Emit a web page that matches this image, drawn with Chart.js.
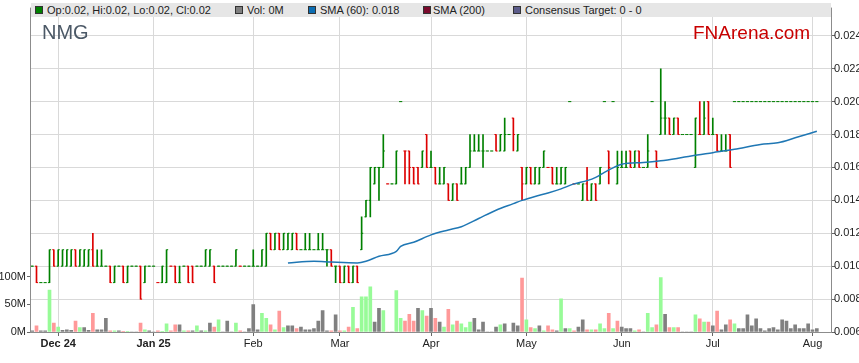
<!DOCTYPE html>
<html>
<head>
<meta charset="utf-8">
<script src="https://cdn.jsdelivr.net/npm/chart.js@4.4.1/dist/chart.umd.min.js"></script>
<style>
  body { margin: 0; background: #fff; }
  #wrap { position: relative; width: 859px; height: 363px; font-family: "Liberation Sans", Arial, sans-serif; }
  #band { position: absolute; left: 31px; top: 3px; width: 800px; height: 14px; background: #e6e6e6; font-size: 11px; color: #222; }
  #band .sq { position: absolute; top: 3px; width: 6px; height: 6px; border: 1px solid #333; }
  #band .tx { position: absolute; top: 0; line-height: 14px; white-space: nowrap; }
  .mark { position: absolute; white-space: nowrap; line-height: 20px; }
</style>
</head>
<body>
<div id="wrap">
  <canvas id="chart"></canvas>
  <div id="band">
    <span class="sq" style="left:4px;background:#008000"></span><span class="tx" style="left:16px">Op:0.02, Hi:0.02, Lo:0.02, Cl:0.02</span>
    <span class="sq" style="left:204px;background:#808080"></span><span class="tx" style="left:216px">Vol: 0M</span>
    <span class="sq" style="left:277px;background:#0b6db3"></span><span class="tx" style="left:289px">SMA (60): 0.018</span>
    <span class="sq" style="left:392px;background:#7a0a2c"></span><span class="tx" style="left:402px">SMA (200)</span>
    <span class="sq" style="left:482px;background:#5c5c8a"></span><span class="tx" style="left:494px">Consensus Target: 0 - 0</span>
  </div>
  <div class="mark" style="left:42px;top:22px;font-size:20px;color:#4b5866">NMG</div>
  <div class="mark" style="left:693px;top:23px;font-size:19px;color:#c80000">FNArena.com</div>
</div>
<script>
// prices in thousandths of a dollar, one entry per weekday from 22 Nov 2024
const open = [
  10,10,9,9,9,11,10,10,10,10, 11,10,10,10,11,10,10,10,10,9,
  10,10,9,10,10,10,9,10,10,9, 9,9,10,10,9,10,10,10,10,10,
  10,10,10,10,10,10,10,10,10,10, 10,10,10,10,10,12,11,12,11,11,
  11,12,11,11,11,11,11,11,11,11, 10,10,9,10,9,10,11,13,14,15,
  16,16,15,15,15,20,17,17,16,16, 16,18,16,16,15,15,15,14,15,15,
  15,16,17,17,17,17,17,18,17,17, 18,19,17,16,15,16,15,15,16,16,
  16,15,15,15,20,15,15,14,15,14, 15,15,20,17,20,15,16,16,17,16,
  17,16,16,20,17,18,19,19,18,19, 18,18,18,16,18,18,20,18,18,17,
  17,18,20,20,20,20,20,20,20,20, 20,20,20,20,20,20,20,20,20,20,
  20,20
];
const high = [
  10,10,9,9,11,11,11,11,11,11, 11,11,11,11,12,11,11,10,10,10,
  10,10,10,10,10,10,10,10,10,9, 10,11,10,10,10,10,10,10,10,10,
  11,11,10,10,10,10,10,11,10,10, 10,11,10,11,12,12,12,12,12,12,
  12,12,11,12,12,11,12,12,11,11, 10,10,10,10,10,10,13,14,16,16,
  16,18,15,15,17,20,17,17,16,16, 17,18,17,16,16,16,15,15,15,16,
  16,18,18,18,18,17,17,18,18,19, 18,19,18,16,16,16,16,16,17,16,
  16,16,16,16,20,15,15,15,16,15, 15,16,20,17,20,17,17,17,17,17,
  17,16,18,20,17,22,20,19,19,19, 18,18,18,19,20,20,20,19,18,18,
  18,18,20,20,20,20,20,20,20,20, 20,20,20,20,20,20,20,20,20,20,
  20,20
];
const low = [
  10,9,9,9,9,10,10,10,10,10, 10,10,10,10,10,10,10,10,9,9,
  10,9,9,10,10,8,9,10,10,9, 9,9,10,9,9,10,9,9,10,10,
  10,10,9,10,10,10,10,10,10,10, 10,10,10,10,10,11,11,11,11,11,
  11,11,11,11,11,11,11,11,10,10, 9,9,9,9,9,9,11,13,13,15,
  14,16,15,15,15,20,15,15,15,15, 16,16,16,15,15,15,14,14,14,15,
  15,16,17,17,16,17,17,17,17,17, 18,17,17,14,15,15,15,15,16,16,
  15,15,15,15,20,15,15,14,14,14, 14,15,20,15,20,15,16,16,16,16,
  16,16,16,20,16,18,18,18,18,18, 18,18,18,16,18,18,18,18,17,17,
  17,16,20,20,20,20,20,20,20,20, 20,20,20,20,20,20,20,20,20,20,
  20,20
];
const close = [
  10,9,9,9,11,10,11,11,11,11, 10,11,11,11,10,10,10,10,9,10,
  10,9,10,10,10,8,10,10,10,9, 10,11,10,9,9,10,9,9,10,10,
  11,11,9,10,10,10,10,11,10,10, 10,10,10,11,12,11,12,11,12,12,
  12,11,11,11,11,11,11,11,11,10, 10,9,10,9,10,9,12,14,16,16,
  16,17,15,15,17,20,17,16,15,15, 17,16,16,15,15,16,14,15,14,15,
  16,17,17,17,17,17,17,17,18,18, 18,18,18,15,16,15,16,16,17,16,
  15,15,16,16,20,15,15,15,14,15, 14,16,20,16,20,16,16,16,16,17,
  16,16,17,20,16,19,19,18,19,18, 18,18,18,19,18,19,18,18,17,17,
  17,16,20,20,20,20,20,20,20,20, 20,20,20,20,20,20,20,20,20,20,
  20,20
];
// volume in millions of shares
const volume = [
  2,11,2,2,76,16,9,3,4,3, 20,8,8,3,34,4,4,25,2,2,
  2,1,1,0,0,16,4,2,0,2, 1,15,2,13,13,2,2,2,11,2,
  2,16,9,22,0,20,0,16,2,0, 6,50,4,34,25,13,4,38,8,11,
  11,6,9,4,4,6,20,39,2,2, 31,2,2,9,45,6,64,64,82,18,
  43,39,0,0,75,25,20,32,20,43, 39,29,43,25,18,9,41,13,20,15,
  8,18,25,4,18,0,0,9,13,15, 0,16,11,98,22,8,6,11,2,11,
  4,2,60,6,6,2,9,22,4,4, 4,15,6,34,6,20,9,6,6,2,
  4,0,34,8,13,99,32,8,8,8, 0,0,0,31,24,18,18,11,38,4,
  13,22,15,6,6,31,11,24,6,2, 6,8,4,22,20,6,13,6,6,15,
  4,6
];
// SMA (60) at these weekday indexes
const smaIndex = [59, 65, 69, 75, 77, 80, 84, 85, 88, 92, 96, 99, 103, 107, 111, 113, 116, 119, 122, 125,
  128, 130, 132, 136, 141, 145, 149, 152, 157, 162, 168, 172, 176, 181];
const smaValue = [10.2, 10.3, 10.25, 10.2, 10.3, 10.6, 10.9, 11.2, 11.45, 11.9, 12.2, 12.4, 12.9, 13.4, 13.8, 14.0, 14.24, 14.45, 14.7, 15.0,
  15.2, 15.4, 15.7, 16.2, 16.3, 16.4, 16.56, 16.7, 16.9, 17.1, 17.4, 17.5, 17.8, 18.2];

const monthLabels = ['Dec 24', 'Jan 25', 'Feb', 'Mar', 'Apr', 'May', 'Jun', 'Jul', 'Aug'];
const volTicks = [0, 50, 100];
const dayCount = 185;

const FONT = '"Liberation Sans", Arial, sans-serif';
const UP = '#008000', DOWN = '#dd0000';
const VOL_UP = '#98fb98', VOL_DOWN = '#ff9999', VOL_FLAT = '#808080';

// weekday categories
const days = [];
const d = new Date(2024, 10, 22);
while (days.length < dayCount) {
  if (d.getDay() !== 0 && d.getDay() !== 6) days.push(new Date(d));
  d.setDate(d.getDate() + 1);
}
const labels = days.map(x => x.getFullYear() + '-' + (x.getMonth() + 1) + '-' + x.getDate());
const monthStart = {};
let m = 0;
days.forEach((x, i) => {
  if (i > 0 && x.getMonth() !== days[i - 1].getMonth()) monthStart[i] = monthLabels[m++];
});

const barColor = close.map((c, i) => {
  if (c > open[i]) return UP;
  if (c < open[i]) return DOWN;
  return (i === 0 || c >= close[i - 1]) ? UP : DOWN;
});
const volColor = volume.map((v, i) => {
  if (i === 0 || close[i] === close[i - 1]) return VOL_FLAT;
  return close[i] > close[i - 1] ? VOL_UP : VOL_DOWN;
});
const wicks = high.map((h, i) => [low[i], h]);
const sma = new Array(dayCount).fill(null);
smaIndex.forEach((idx, k) => { sma[idx] = smaValue[k]; });

const frame = {
  id: 'frame',
  afterDraw(chart) {
    const a = chart.chartArea, ctx = chart.ctx;
    ctx.save();
    ctx.strokeStyle = '#8c8c8c';
    ctx.lineWidth = 1;
    ctx.strokeRect(a.left + 0.5, a.top + 0.5, a.right - a.left - 1, a.bottom - a.top);
    ctx.restore();
  }
};

new Chart(document.getElementById('chart'), {
  type: 'bar',
  data: {
    labels: labels,
    datasets: [
      {
        type: 'line', data: sma, yAxisID: 'price', order: 0,
        borderColor: '#1f77b4', borderWidth: 1.5, pointRadius: 0,
        spanGaps: true, cubicInterpolationMode: 'monotone'
      },
      {
        type: 'line', data: open, yAxisID: 'price', order: 1, showLine: false,
        pointStyle: 'dash', pointRotation: 180, pointRadius: 1.6,
        pointBorderWidth: 1, pointBorderColor: barColor, pointBackgroundColor: barColor
      },
      {
        type: 'line', data: close, yAxisID: 'price', order: 1, showLine: false,
        pointStyle: 'dash', pointRotation: 0, pointRadius: 1.6,
        pointBorderWidth: 1, pointBorderColor: barColor, pointBackgroundColor: barColor
      },
      {
        data: wicks, yAxisID: 'price', order: 2, grouped: false,
        backgroundColor: barColor, barThickness: 1
      },
      {
        data: volume, yAxisID: 'vol', order: 3, grouped: false,
        backgroundColor: volColor, barThickness: 3
      }
    ]
  },
  options: {
    responsive: true,
    maintainAspectRatio: false,
    animation: false,
    events: [],
    layout: { padding: { top: 2, left: 0, right: 0, bottom: 0 } },
    plugins: { legend: { display: false }, tooltip: { enabled: false } },
    scales: {
      x: {
        type: 'category',
        offset: true,
        grid: {
          offset: false,
          color: ctx => monthStart[ctx.index] ? '#d9d9d9' : 'rgba(0,0,0,0)',
          tickColor: ctx => monthStart[ctx.index] ? '#666' : 'rgba(0,0,0,0)',
          tickLength: 4
        },
        border: { display: false },
        ticks: {
          autoSkip: false, maxRotation: 0, minRotation: 0, padding: 1, color: '#222',
          font: ctx => ({ family: FONT, size: 11, weight: /\d/.test(monthStart[ctx.index] || '') ? 'bold' : 'normal' }),
          callback: (v, i) => monthStart[i] || ''
        },
        afterFit: s => { s.height = 31; }
      },
      price: {
        type: 'linear', position: 'right',
        min: 6, max: 25.714,
        grid: { color: '#d9d9d9', tickColor: '#666', tickLength: 3 },
        border: { display: false },
        ticks: {
          stepSize: 2, includeBounds: false, padding: -1, color: '#222',
          font: { family: FONT, size: 11 },
          callback: v => (v / 1000).toFixed(3)
        },
        afterFit: s => { s.width = 27; }
      },
      vol: {
        type: 'linear', position: 'left',
        min: 0, max: 589,
        grid: { drawOnChartArea: false, tickColor: '#666', tickLength: 3 },
        border: { display: false },
        afterBuildTicks: s => { s.ticks = volTicks.map(v => ({ value: v })); },
        ticks: {
          padding: 1, color: '#222',
          font: { family: FONT, size: 11 },
          callback: v => v + 'M'
        },
        afterFit: s => { s.width = 30; }
      }
    }
  },
  plugins: [frame]
});
</script>
</body>
</html>
